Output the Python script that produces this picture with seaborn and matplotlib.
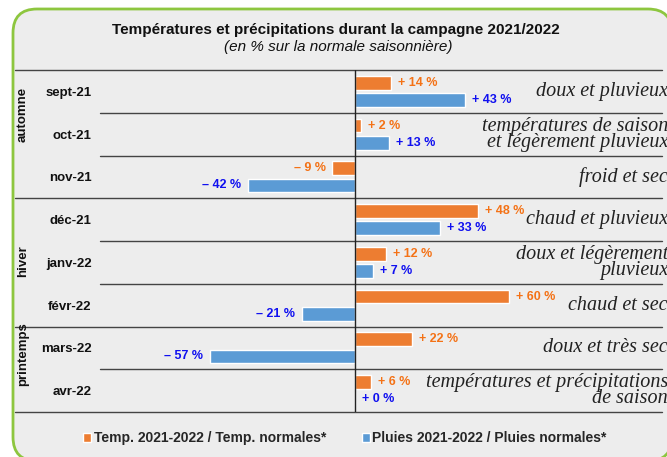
import matplotlib
matplotlib.use("Agg")
import matplotlib.pyplot as plt
from matplotlib.patches import FancyBboxPatch
import matplotlib.transforms as mtransforms
import seaborn as sns
import pandas as pd

months = ["sept-21", "oct-21", "nov-21", "déc-21", "janv-22", "févr-22", "mars-22", "avr-22"]
temp = [14, 2, -9, 48, 12, 60, 22, 6]
pluies = [43, 13, -42, 33, 7, -21, -57, 0]
series_names = ["Temp. 2021-2022 / Temp. normales*", "Pluies 2021-2022 / Pluies normales*"]
descriptions = ["doux et pluvieux", "températures de saison\net légèrement pluvieux", "froid et sec",
                "chaud et pluvieux", "doux et légèrement\npluvieux", "chaud et sec",
                "doux et très sec", "températures et précipitations\nde saison"]
seasons = ["automne", "hiver", "printemps"]
season_pos = [0.55, 3.97, 6.14]

ORANGE = "#ED7D31"
BLUE = "#5B9BD5"
ORANGE_TXT = "#F47216"
BLUE_TXT = "#1010F0"

df = pd.DataFrame({
    "mois": months * 2,
    "valeur": temp + pluies,
    "serie": [series_names[0]] * len(months) + [series_names[1]] * len(months),
})

sns.set_theme(style="white")
plt.rcParams["font.family"] = ["Liberation Sans", "DejaVu Sans"]

W, H = 667, 457
fig = plt.figure(figsize=(W / 100, H / 100), dpi=100)
fig.patch.set_facecolor("white")

# rounded background box
box = FancyBboxPatch((0.13, -0.04), 6.59, 4.52,
                     boxstyle="round,pad=0,rounding_size=0.24",
                     transform=fig.dpi_scale_trans, facecolor="#EDEDED",
                     edgecolor="#8DC63F", linewidth=2.0, zorder=-10)
fig.patches.append(box)

ax = fig.add_axes([100 / W, 1 - 412 / H, 562 / W, 342 / H])
ax.set_facecolor("none")
ax.set_zorder(5)

sns.barplot(data=df, y="mois", x="valeur", hue="serie", orient="h",
            palette=[ORANGE, BLUE], width=0.8, gap=0.2, ax=ax,
            order=months, hue_order=series_names, saturation=1, legend=True)

handles = ax.get_legend().legend_handles
ax.get_legend().remove()

ax.set_xlim(-100, 120)
ax.set_ylim(7.5, -0.5)
for s in ax.spines.values():
    s.set_visible(False)
ax.set_xlabel("")
ax.set_ylabel("")
ax.set_xticks([])
ax.tick_params(axis="y", length=0, pad=6)
for lab in ax.get_yticklabels():
    lab.set_fontweight("bold")
    lab.set_fontsize(9.5)
    lab.set_color("#111111")

def fmt(v):
    if v < 0:
        return f"\u2013 {abs(v)} %"
    return f"+ {v} %"

for cont, vals, col in zip(ax.containers, [temp, pluies], [ORANGE_TXT, BLUE_TXT]):
    ax.bar_label(cont, labels=[fmt(v) for v in vals], padding=5, color=col,
                 fontsize=9, fontweight="bold")

# zero line
ax.axvline(0, color="#222222", lw=1.0, zorder=5)

# separators
trans = mtransforms.blended_transform_factory(ax.transAxes, ax.transData)
x_far = (15 - 100) / 562
for y in [-0.5, 2.5, 5.5, 7.5]:
    ax.plot([x_far, 1], [y, y], color="#444444", lw=1.0, transform=trans, clip_on=False)
for y in [0.5, 1.5, 3.5, 4.5, 6.5]:
    ax.plot([0, 1], [y, y], color="#444444", lw=1.0, transform=trans, clip_on=False)

# seasons
x_season = (23 - 100) / 562
for name, yp in zip(seasons, season_pos):
    ax.text(x_season, yp, name, rotation=90, transform=trans, ha="center", va="center",
            fontsize=9.5, fontweight="bold", color="#111111")

# descriptions
x_desc = (668 - 100) / 562
for i, d in enumerate(descriptions):
    ax.text(x_desc, i, d, transform=trans, ha="right", va="center", multialignment="right",
            fontsize=14.5, fontstyle="italic", family="Liberation Serif", color="#222222",
            linespacing=0.8, clip_on=False)

# titles
fig.text(336 / W, 1 - 30 / H, "Températures et précipitations durant la campagne 2021/2022",
         ha="center", va="center", fontsize=11, fontweight="bold", color="#111111")
fig.text(338 / W, 1 - 47 / H, "(en % sur la normale saisonnière)",
         ha="center", va="center", fontsize=11, fontstyle="italic", color="#111111")

leg = fig.legend(handles, series_names, loc="center", bbox_to_anchor=(345 / W, 1 - 438 / H),
                 ncol=2, frameon=False, handlelength=0.6, handleheight=0.6, handletextpad=0.15,
                 columnspacing=2.6, prop={"weight": "bold", "size": 10})

fig.savefig("out.png", dpi=100)
